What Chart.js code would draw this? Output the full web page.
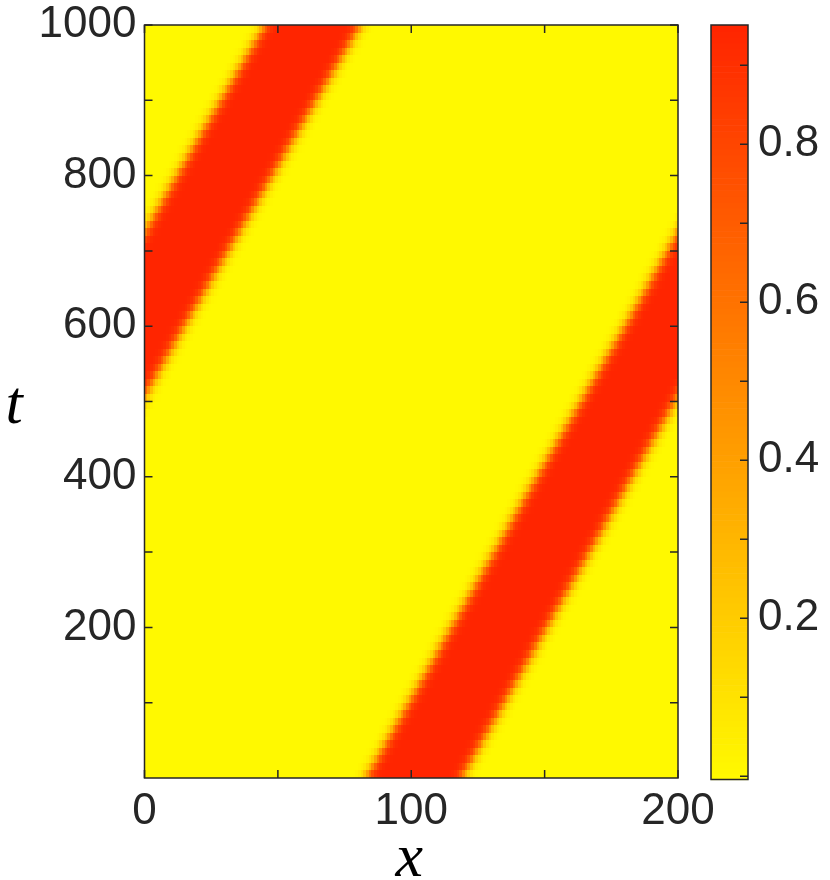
<!DOCTYPE html>
<html>
<head>
<meta charset="utf-8">
<script src="https://cdn.jsdelivr.net/npm/chart.js@4.4.1/dist/chart.umd.min.js"></script>
<style>
  html, body { margin: 0; padding: 0; background: #fff; }
  #page { position: relative; width: 830px; height: 880px; }
  .box { position: absolute; top: 0; height: 880px; }
</style>
</head>
<body>
<div id="page">
  <div class="box" style="left:0;width:830px"><canvas id="mainChart"></canvas></div>
  <div class="box" style="left:700px;width:130px"><canvas id="barChart"></canvas></div>
</div>
<script>
// axis ranges and ticks
const xRange = [0, 200];
const tRange = [0, 1000];
const xTicks = [0, 50, 100, 150, 200];
const xTickLabels = ['0', '', '100', '', '200'];
const tTicks = [100, 200, 300, 400, 500, 600, 700, 800, 900, 1000];
const tTickLabels = ['', '200', '', '400', '', '600', '', '800', '', '1000'];

// colour bar
const cRange = [-0.004, 0.951];
const cTicks = [0, 0.1, 0.2, 0.3, 0.4, 0.5, 0.6, 0.7, 0.8, 0.9];
const cTickLabels = ['', '', '0.2', '', '0.4', '', '0.6', '', '0.8', ''];

// red band: half-height edges (x, unwrapped) at some times
const bandT = [0, 200, 400, 600, 800, 1000];
const bandLeft = [83, 115, 147, 180, 212, 245];
const bandRight = [119, 151, 183, 215, 248, 281];

// cross profile of an edge: value vs distance inside the band edge
const edgeDist = [-6, -5, -4, -3, -2, -1, 0, 1, 2, 3, 4, 5, 6];
const edgeVal = [0, 0.01, 0.03, 0.07, 0.15, 0.28, 0.47, 0.66, 0.8, 0.88, 0.92, 0.94, 0.946];

// grid of the solution
const dx = 1, dt = 10;

const textColor = '#262626';
const tickFont = { family: 'Liberation Sans, Arial, Helvetica, sans-serif', size: 44 };

function colorOf(v) {
  let s = (v - cRange[0]) / (cRange[1] - cRange[0]);
  s = Math.max(0, Math.min(1, s));
  const g = Math.round(250 - s * (250 - 36));
  return [255, g, 0];
}

function edgesAt(t) {
  let k = 0;
  while (k < bandT.length - 2 && t > bandT[k + 1]) k++;
  const f = (t - bandT[k]) / (bandT[k + 1] - bandT[k]);
  return [bandLeft[k] + f * (bandLeft[k + 1] - bandLeft[k]),
          bandRight[k] + f * (bandRight[k + 1] - bandRight[k])];
}

function edgeLookup(d) {
  if (d <= edgeDist[0]) return edgeVal[0];
  if (d >= edgeDist[edgeDist.length - 1]) return edgeVal[edgeVal.length - 1];
  let k = 0;
  while (d > edgeDist[k + 1]) k++;
  const f = (d - edgeDist[k]) / (edgeDist[k + 1] - edgeDist[k]);
  return edgeVal[k] + f * (edgeVal[k + 1] - edgeVal[k]);
}

function valueAt(x, t) {
  const [l, r] = edgesAt(t);
  const period = xRange[1] - xRange[0];
  let d = -Infinity;
  [-period, 0, period].forEach(function(s) {
    const xx = x + s;
    d = Math.max(d, Math.min(xx - l, r - xx));
  });
  return edgeLookup(d);
}

// build the picture of the field once
const nx = Math.round((xRange[1] - xRange[0]) / dx);
const nt = Math.round((tRange[1] - tRange[0]) / dt);
const field = document.createElement('canvas');
field.width = nx;
field.height = nt;
(function() {
  const fctx = field.getContext('2d');
  const img = fctx.createImageData(nx, nt);
  for (let j = 0; j < nt; j++) {
    const t = tRange[1] - (j + 0.5) * dt;
    for (let i = 0; i < nx; i++) {
      const x = xRange[0] + (i + 0.5) * dx;
      const c = colorOf(valueAt(x, t));
      const p = (j * nx + i) * 4;
      img.data[p] = c[0]; img.data[p + 1] = c[1]; img.data[p + 2] = c[2]; img.data[p + 3] = 255;
    }
  }
  fctx.putImageData(img, 0, 0);
})();

const heatPlugin = {
  id: 'heat',
  beforeDatasetsDraw(chart) {
    const ctx = chart.ctx, xs = chart.scales.x, ys = chart.scales.y;
    const l = xs.getPixelForValue(xRange[0]), r = xs.getPixelForValue(xRange[1]);
    const top = ys.getPixelForValue(tRange[1]), bot = ys.getPixelForValue(tRange[0]);
    ctx.save();
    ctx.imageSmoothingEnabled = false;
    ctx.drawImage(field, l, top, r - l, bot - top);
    ctx.restore();
  },
  afterDraw(chart) {
    const ctx = chart.ctx, a = chart.chartArea, xs = chart.scales.x, ys = chart.scales.y;
    ctx.save();
    ctx.strokeStyle = textColor;
    ctx.lineWidth = 1.5;
    ctx.beginPath();
    xTicks.forEach(function(v) {
      const px = xs.getPixelForValue(v);
      ctx.moveTo(px, a.bottom); ctx.lineTo(px, a.bottom - 8);
      ctx.moveTo(px, a.top); ctx.lineTo(px, a.top + 8);
    });
    tTicks.forEach(function(v) {
      const py = ys.getPixelForValue(v);
      ctx.moveTo(a.left, py); ctx.lineTo(a.left + 8, py);
      ctx.moveTo(a.right, py); ctx.lineTo(a.right - 8, py);
    });
    ctx.stroke();
    ctx.strokeRect(a.left, a.top, a.right - a.left, a.bottom - a.top);
    // axis labels
    ctx.fillStyle = '#000';
    ctx.font = 'italic 62px "Liberation Serif", "Times New Roman", serif';
    ctx.textAlign = 'center';
    ctx.textBaseline = 'alphabetic';
    ctx.fillText('x', (a.left + a.right) / 2 - 2, 876);
    ctx.fillText('t', 14, (a.top + a.bottom) / 2 + 21);
    ctx.restore();
  }
};

new Chart(document.getElementById('mainChart'), {
  type: 'scatter',
  data: { datasets: [] },
  options: {
    responsive: true,
    maintainAspectRatio: false,
    animation: false,
    layout: { padding: { left: 0, top: 25, right: 152, bottom: 0 } },
    plugins: { legend: { display: false }, tooltip: { enabled: false } },
    scales: {
      x: {
        type: 'linear', min: xRange[0], max: xRange[1],
        grid: { display: false, drawTicks: false },
        border: { display: false },
        afterBuildTicks: function(s) { s.ticks = xTicks.map(function(v) { return { value: v }; }); },
        afterFit: function(s) { s.height = 102; s.paddingLeft = 0; s.paddingRight = 0; },
        ticks: {
          autoSkip: false, maxRotation: 0, padding: 7,
          color: textColor, font: tickFont,
          callback: function(v, i) { return xTickLabels[i]; }
        }
      },
      y: {
        type: 'linear', min: tRange[0], max: tRange[1],
        grid: { display: false, drawTicks: false },
        border: { display: false },
        afterBuildTicks: function(s) { s.ticks = tTicks.map(function(v) { return { value: v }; }); },
        afterFit: function(s) { s.width = 144.5; s.paddingTop = 0; s.paddingBottom = 0; },
        ticks: {
          autoSkip: false, padding: 8,
          color: textColor, font: tickFont,
          callback: function(v, i) { return tTickLabels[i]; }
        }
      }
    }
  },
  plugins: [heatPlugin]
});

const barPlugin = {
  id: 'cbar',
  beforeDatasetsDraw(chart) {
    const ctx = chart.ctx, a = chart.chartArea, ys = chart.scales.y;
    const steps = 128;
    ctx.save();
    for (let k = 0; k < steps; k++) {
      const v0 = cRange[0] + (cRange[1] - cRange[0]) * k / steps;
      const v1 = cRange[0] + (cRange[1] - cRange[0]) * (k + 1) / steps;
      const c = colorOf((v0 + v1) / 2);
      const y0 = ys.getPixelForValue(v0), y1 = ys.getPixelForValue(v1);
      ctx.fillStyle = 'rgb(' + c.join(',') + ')';
      ctx.fillRect(a.left, y1, a.right - a.left, y0 - y1 + 0.6);
    }
    ctx.restore();
  },
  afterDraw(chart) {
    const ctx = chart.ctx, a = chart.chartArea, ys = chart.scales.y;
    ctx.save();
    ctx.strokeStyle = textColor;
    ctx.lineWidth = 1.5;
    ctx.beginPath();
    cTicks.forEach(function(v) {
      const py = ys.getPixelForValue(v);
      ctx.moveTo(a.right, py); ctx.lineTo(a.right - 8, py);
    });
    ctx.stroke();
    ctx.strokeRect(a.left, a.top, a.right - a.left, a.bottom - a.top);
    ctx.restore();
  }
};

new Chart(document.getElementById('barChart'), {
  type: 'scatter',
  data: { datasets: [] },
  options: {
    responsive: true,
    maintainAspectRatio: false,
    animation: false,
    layout: { padding: { left: 11, top: 25, right: 0, bottom: 100.5 } },
    plugins: { legend: { display: false }, tooltip: { enabled: false } },
    scales: {
      x: { type: 'linear', min: 0, max: 1, display: false },
      y: {
        type: 'linear', position: 'right', min: cRange[0], max: cRange[1],
        grid: { display: false, drawTicks: false },
        border: { display: false },
        afterBuildTicks: function(s) { s.ticks = cTicks.map(function(v) { return { value: v }; }); },
        afterFit: function(s) { s.width = 82; s.paddingTop = 0; s.paddingBottom = 0; },
        ticks: {
          autoSkip: false, padding: 10,
          color: textColor, font: tickFont,
          callback: function(v, i) { return cTickLabels[i]; }
        }
      }
    }
  },
  plugins: [barPlugin]
});
</script>
</body>
</html>
